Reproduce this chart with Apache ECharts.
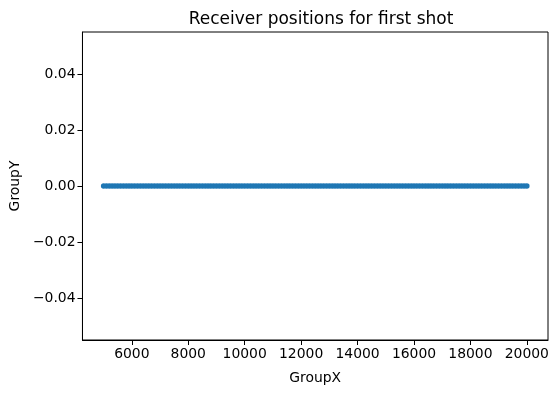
<!DOCTYPE html>
<html>
<head>
<meta charset="utf-8">
<script src="https://cdn.jsdelivr.net/npm/echarts@6/dist/echarts.min.js"></script>
<style>html,body{margin:0;padding:0;background:#fff}#c{width:556px;height:393px}</style>
</head>
<body>
<div id="c"></div>
<script>
// Receiver positions (GroupX) for the first shot; all at GroupY = 0
var groupX = [
5000,5100,5200,5300,5400,5500,5600,5700,5800,5900,
6000,6100,6200,6300,6400,6500,6600,6700,6800,6900,
7000,7100,7200,7300,7400,7500,7600,7700,7800,7900,
8000,8100,8200,8300,8400,8500,8600,8700,8800,8900,
9000,9100,9200,9300,9400,9500,9600,9700,9800,9900,
10000,10100,10200,10300,10400,10500,10600,10700,10800,10900,
11000,11100,11200,11300,11400,11500,11600,11700,11800,11900,
12000,12100,12200,12300,12400,12500,12600,12700,12800,12900,
13000,13100,13200,13300,13400,13500,13600,13700,13800,13900,
14000,14100,14200,14300,14400,14500,14600,14700,14800,14900,
15000,15100,15200,15300,15400,15500,15600,15700,15800,15900,
16000,16100,16200,16300,16400,16500,16600,16700,16800,16900,
17000,17100,17200,17300,17400,17500,17600,17700,17800,17900,
18000,18100,18200,18300,18400,18500,18600,18700,18800,18900,
19000,19100,19200,19300,19400,19500,19600,19700,19800,19900,
20000
];
var groupYValue = 0;
var xTicks = [6000, 8000, 10000, 12000, 14000, 16000, 18000, 20000];
var yTicks = [-0.04, -0.02, 0, 0.02, 0.04];

var points = groupX.map(function (x) { return [x, groupYValue]; });
var font = 'DejaVu Sans';
var chart = echarts.init(document.getElementById('c'), null, {renderer: 'canvas'});
chart.setOption({
  animation: false,
  title: {
    text: 'Receiver positions for first shot',
    left: 316, top: 6, textAlign: 'center',
    textStyle: {fontFamily: font, fontSize: 17, fontWeight: 'normal', color: '#000'}
  },
  grid: {left: 82, right: 8, top: 32, bottom: 53, show: true, borderColor: '#000', borderWidth: 1, backgroundColor: 'transparent'},
  xAxis: {
    type: 'value', min: 4250, max: 20750,
    name: 'GroupX', nameLocation: 'middle', nameGap: 31,
    nameTextStyle: {fontFamily: font, fontSize: 13.9, color: '#000'},
    axisLine: {show: true, onZero: false, lineStyle: {color: '#000', width: 1}},
    axisTick: {show: true, length: 5, inside: false, customValues: xTicks, lineStyle: {color: '#000'}},
    axisLabel: {customValues: xTicks, fontFamily: font, fontSize: 13.9, color: '#000', margin: 7,
      formatter: function (v) { return String(v); }},
    splitLine: {show: false}
  },
  yAxis: {
    type: 'value', min: -0.055, max: 0.055,
    name: 'GroupY', nameLocation: 'middle', nameGap: 58,
    nameTextStyle: {fontFamily: font, fontSize: 13.9, color: '#000'},
    axisLine: {show: true, onZero: false, lineStyle: {color: '#000', width: 1}},
    axisTick: {show: true, length: 5, inside: false, customValues: yTicks, lineStyle: {color: '#000'}},
    axisLabel: {
      customValues: yTicks, fontFamily: font, fontSize: 13.9, color: '#000', margin: 7,
      formatter: function (v) { return v.toFixed(2).replace('-', '\u2212'); }
    },
    splitLine: {show: false}
  },
  series: [{
    type: 'scatter',
    data: points,
    symbol: 'circle',
    symbolSize: 5.5,
    itemStyle: {color: '#1f77b4', opacity: 1}
  }]
});
</script>
</body>
</html>
